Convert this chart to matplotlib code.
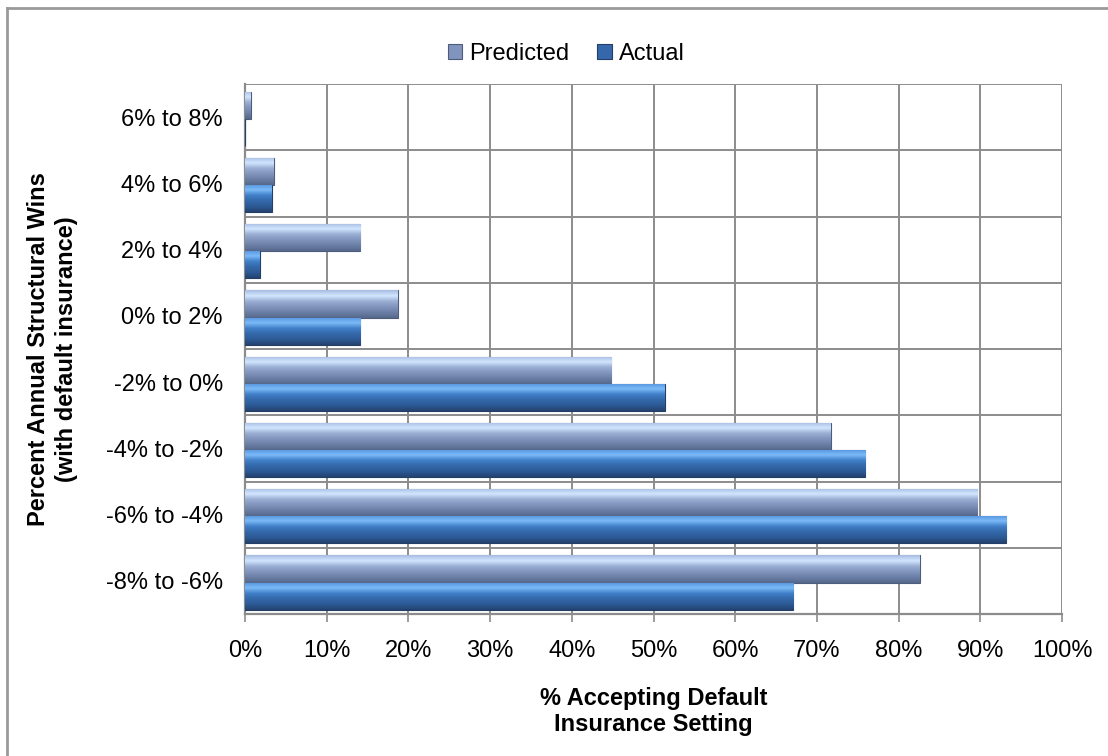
import numpy as np
import matplotlib.pyplot as plt
from matplotlib.colors import LinearSegmentedColormap
from matplotlib.lines import Line2D
from matplotlib.ticker import FuncFormatter, MultipleLocator

plt.rcParams['font.family'] = ['Liberation Sans', 'DejaVu Sans']

# data, bottom category first
categories = ['-8% to -6%', '-6% to -4%', '-4% to -2%', '-2% to 0%',
              '0% to 2%', '2% to 4%', '4% to 6%', '6% to 8%']
predicted = [82.6, 89.6, 71.7, 44.8, 18.7, 14.1, 3.5, 0.7]
actual = [67.1, 93.2, 75.9, 51.4, 14.1, 1.8, 3.3, 0.0]

fig = plt.figure(figsize=(11.08, 7.56), dpi=100)
ax = fig.add_axes([245 / 1108, 1 - 614 / 756, (1062 - 245) / 1108, (614 - 84) / 756])

y = np.arange(len(categories))
h = 0.41
shift = -0.025

bars_pred = ax.barh(y + shift + h / 2, predicted, height=h, color='#8194bd',
                    edgecolor='#4c5c7a', linewidth=0.8, label='Predicted', zorder=3)
bars_act = ax.barh(y + shift - h / 2, actual, height=h, color='#3468aa',
                   edgecolor='#233f66', linewidth=0.8, label='Actual', zorder=3)

ax.set_xlim(0, 100)
ax.set_ylim(-0.5, len(categories) - 0.5)

# glossy look: vertical gradient clipped to each bar
cmap_pred = LinearSegmentedColormap.from_list(
    'pred', ['#56688c', '#6b7fa6', '#8194bd', '#9aaed4', '#d2e6ff', '#a8bce2'])
cmap_act = LinearSegmentedColormap.from_list(
    'act', ['#24426e', '#2d5a96', '#3468aa', '#4080c8', '#7cbaf8', '#5494dc'])
grad = np.linspace(0, 1, 64).reshape(-1, 1)
for bars, cmap in [(bars_pred, cmap_pred), (bars_act, cmap_act)]:
    for b in bars:
        w = b.get_width()
        if w <= 0:
            continue
        y0 = b.get_y()
        im = ax.imshow(grad, cmap=cmap, aspect='auto', origin='lower',
                       extent=(0, w, y0, y0 + b.get_height()), zorder=3.5,
                       interpolation='bilinear')
        im.set_clip_path(b)
ax.set_xlim(0, 100)
ax.set_ylim(-0.5, len(categories) - 0.5)

ax.set_yticks(y)
ax.set_yticklabels(categories)
ax.yaxis.set_minor_locator(MultipleLocator(1, offset=0.5))
ax.xaxis.set_major_locator(MultipleLocator(10))
ax.xaxis.set_major_formatter(FuncFormatter(lambda v, p: '%d%%' % v))

grid_c = '#8c8c8c'
ax.grid(axis='x', which='major', color=grid_c, linewidth=1.4, zorder=1)
ax.grid(axis='y', which='minor', color=grid_c, linewidth=1.4, zorder=1)
ax.set_axisbelow(True)
for s in ['top', 'right']:
    ax.spines[s].set_visible(False)
for s in ['left', 'bottom']:
    ax.spines[s].set_color(grid_c)
    ax.spines[s].set_linewidth(1.6)

ax.tick_params(axis='x', length=6, width=1.2, color=grid_c, pad=13, labelsize=17)
ax.tick_params(axis='y', which='both', length=0, pad=16, labelsize=17)

ax.set_xlabel('% Accepting Default\nInsurance Setting', fontsize=17,
              fontweight='bold', labelpad=18, linespacing=1.15)
ax.set_ylabel('Percent Annual Structural Wins\n(with default insurance)', fontsize=17,
              fontweight='bold', labelpad=20, linespacing=1.25)

fig.legend(handles=[bars_pred, bars_act], labels=['Predicted', 'Actual'],
           loc='center', bbox_to_anchor=(0.511, 0.929), ncol=2, frameon=False,
           fontsize=17, handlelength=0.6, handleheight=0.6, handletextpad=0.3,
           columnspacing=1.2)

# outer chart frame (only top and left edges are visible)
fig.add_artist(Line2D([7 / 1108, 1], [1 - 8 / 756, 1 - 8 / 756], color='#9a9a9a',
                      linewidth=2, transform=fig.transFigure))
fig.add_artist(Line2D([7 / 1108, 7 / 1108], [0, 1 - 8 / 756], color='#9a9a9a',
                      linewidth=2, transform=fig.transFigure))

fig.savefig('out.png', dpi=100)
